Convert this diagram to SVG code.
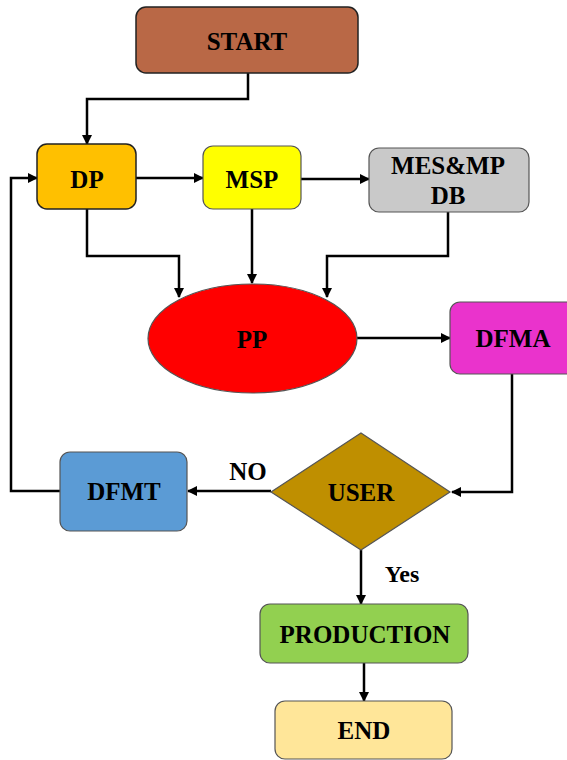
<svg xmlns="http://www.w3.org/2000/svg" width="567" height="760" viewBox="0 0 567 760">
<defs>
<style>
.lbl{font-family:"Liberation Serif","Times New Roman",serif;font-weight:bold;font-size:25px;fill:#000;text-anchor:middle}
.box{stroke:#222;stroke-width:1.5}
.box2{stroke:#555;stroke-width:1.2}
.ln{fill:none;stroke:#000;stroke-width:2.5}
</style>
<marker id="ah" viewBox="0 0 10 10" refX="9" refY="5" markerWidth="4" markerHeight="4" orient="auto" markerUnits="strokeWidth">
<path d="M0,0 L10,5 L0,10 z" fill="#000"/>
</marker>
</defs>
<rect width="567" height="760" fill="#fff"/>
<g id="connectors">
<path class="ln" d="M248,73 V99 H87 V144" marker-end="url(#ah)"/>
<path class="ln" d="M136,178 H203" marker-end="url(#ah)"/>
<path class="ln" d="M301,179 H369" marker-end="url(#ah)"/>
<path class="ln" d="M87,209 V256 H179 V297" marker-end="url(#ah)"/>
<path class="ln" d="M252,209 V283" marker-end="url(#ah)"/>
<path class="ln" d="M448,212 V256 H327 V297" marker-end="url(#ah)"/>
<path class="ln" d="M357,338 H450" marker-end="url(#ah)"/>
<path class="ln" d="M512,374 V492 H452" marker-end="url(#ah)"/>
<path class="ln" d="M271,491 H188" marker-end="url(#ah)"/>
<path class="ln" d="M60,491 H11 V178 H37" marker-end="url(#ah)"/>
<path class="ln" d="M361,550 V604" marker-end="url(#ah)"/>
<path class="ln" d="M364,663 V701" marker-end="url(#ah)"/>
<text class="lbl" x="248" y="480">NO</text>
<text class="lbl" x="402" y="582" style="font-size:24px">Yes</text>
</g>
<g id="start">
<rect class="box" x="136" y="7" width="222" height="66" rx="10" fill="#b96846"/>
<text class="lbl" x="247" y="50">START</text>
</g>
<g id="dp">
<rect class="box" x="37" y="144" width="99" height="65" rx="10" fill="#ffc000"/>
<text class="lbl" x="87" y="188">DP</text>
</g>
<g id="msp">
<rect class="box2" x="203" y="146" width="98" height="63" rx="10" fill="#ffff00"/>
<text class="lbl" x="252" y="188">MSP</text>
</g>
<g id="mesmpdb">
<rect class="box2" x="369" y="148" width="160" height="64" rx="10" fill="#c9c9c9"/>
<text class="lbl" x="448" y="174">MES&amp;MP</text>
<text class="lbl" x="448" y="204">DB</text>
</g>
<g id="pp">
<ellipse class="box2" cx="252.5" cy="338.5" rx="104.5" ry="54.5" fill="#ff0000"/>
<text class="lbl" x="252" y="348">PP</text>
</g>
<g id="dfma">
<rect class="box2" x="450" y="302" width="130" height="72" rx="10" fill="#ea33cc"/>
<text class="lbl" x="513" y="347">DFMA</text>
</g>
<g id="user">
<polygon class="box2" points="361,433 450,492 361,550 271,492" fill="#bf8f00"/>
<text class="lbl" x="361" y="501">USER</text>
</g>
<g id="dfmt">
<rect class="box2" x="60" y="452" width="127" height="79" rx="10" fill="#5b9bd5"/>
<text class="lbl" x="124" y="500">DFMT</text>
</g>
<g id="production">
<rect class="box2" x="260" y="604" width="208" height="59" rx="10" fill="#92d050"/>
<text class="lbl" x="365" y="643">PRODUCTION</text>
</g>
<g id="end">
<rect class="box2" x="275" y="701" width="177" height="58" rx="10" fill="#ffe699"/>
<text class="lbl" x="364" y="739">END</text>
</g>
</svg>
